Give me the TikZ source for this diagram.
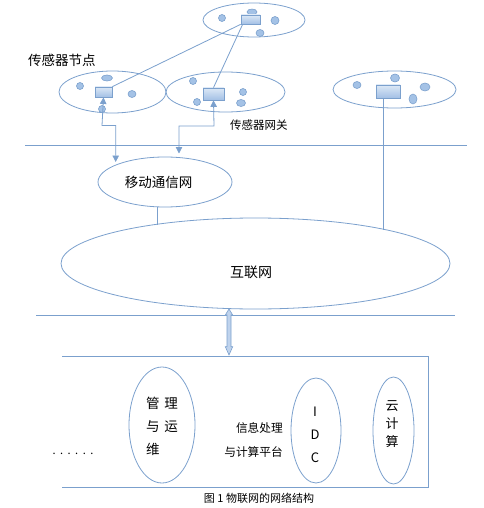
\documentclass[tikz,border=0pt]{standalone}
\usepackage{fontspec}
\setmainfont{Noto Sans CJK SC}
\usetikzlibrary{arrows.meta,positioning,shapes.geometric}
\definecolor{edge}{HTML}{7BA0CD}
\definecolor{dot}{HTML}{A4C2E6}
\definecolor{boxtop}{HTML}{DCE8F6}
\definecolor{boxbot}{HTML}{A3C0E5}
\tikzset{
    %Define standard arrow tip
    >={Triangle[length=6.5pt,width=6.5pt]},
    %Define style for the network ellipses
    net/.style={
           ellipse,
           draw=edge,
           line width=0.8pt,
           inner sep=0pt},
    %Define style for the small sensor dots
    sensor/.style={
           ellipse,
           draw=edge,
           line width=0.6pt,
           fill=dot,
           inner sep=0pt},
    %Define style for the gateway boxes
    gateway/.style={
           rectangle,
           draw=edge,
           line width=0.8pt,
           top color=boxtop,
           bottom color=boxbot,
           inner sep=0pt},
    % Define line style
    wire/.style={
           draw=edge,
           line width=0.8pt},
    lbl/.style={
           inner sep=0pt,
           text=black}
}

\begin{document}
\begin{tikzpicture}[x=1pt,y=-1pt]
\useasboundingbox (0,0) rectangle (483,508);
% sensor fields
\node[net, minimum width=102pt, minimum height=34pt](topf) at (254,20){};
\node[net, minimum width=107pt, minimum height=42pt](leftf) at (112.5,92){};
\node[net, minimum width=119pt, minimum height=40pt](midf) at (225.5,92){};
\node[net, minimum width=123pt, minimum height=37pt](rightf) at (394.5,89.5){};
% sensors
\node[sensor, minimum width=7pt, minimum height=7pt](t1) at (222,18){};
\node[sensor, minimum width=10pt, minimum height=6pt](t2) at (252,12){};
\node[sensor, minimum width=8pt, minimum height=8pt](t3) at (275,20.5){};
\node[sensor, minimum width=8pt, minimum height=7pt](t4) at (260,33){};
\node[sensor, minimum width=7pt, minimum height=7pt](l1) at (80,86){};
\node[sensor, minimum width=11pt, minimum height=6pt](l2) at (107,78){};
\node[sensor, minimum width=8pt, minimum height=7pt](l3) at (132,94){};
\node[sensor, minimum width=7pt, minimum height=7pt](l4) at (102,109){};
\node[sensor, minimum width=7pt, minimum height=7pt](m1) at (193,81){};
\node[sensor, minimum width=7pt, minimum height=7pt](m2) at (243,92){};
\node[sensor, minimum width=7pt, minimum height=7pt](m3) at (197,102){};
\node[sensor, minimum width=9pt, minimum height=7pt](m4) at (241,103){};
\node[sensor, minimum width=8pt, minimum height=7pt](r1) at (357,85){};
\node[sensor, minimum width=9pt, minimum height=8pt](r2) at (395,78){};
\node[sensor, minimum width=10pt, minimum height=8pt](r3) at (425,87){};
\node[sensor, minimum width=8pt, minimum height=10pt](r4) at (413,99){};
% gateways
\node[gateway, minimum width=19pt, minimum height=9pt](topg) at (250.5,19.5){};
\node[gateway, minimum width=17pt, minimum height=10pt](leftg) at (103.5,92){};
\node[gateway, minimum width=21pt, minimum height=12pt](midg) at (213.5,94){};
\node[gateway, minimum width=24pt, minimum height=13pt](rightg) at (388,91.5){};
% labels
\node[lbl, anchor=west, font=\fontsize{13.5}{15}\selectfont](nodelbl) at (28,60){传感器节点};
\node[lbl, anchor=west, font=\fontsize{11.5}{13}\selectfont](gwlbl) at (230,125){传感器网关};
% networks
\node[net, minimum width=134pt, minimum height=50pt](mob) at (165,182){};
\node[lbl, font=\fontsize{13.5}{15}\selectfont] at (158.5,182){移动通信网};
\node[net, minimum width=389pt, minimum height=91pt](inet) at (255.5,263.5){};
\node[lbl, font=\fontsize{14}{16}\selectfont] at (251,272){互联网};
% platform
\node[net, minimum width=66pt, minimum height=116pt](mgmt) at (162,425){};
\node[lbl, align=left, font=\fontsize{13.5}{23}\selectfont] at (162,426){管\hspace{5pt}理\\与\hspace{5pt}运\\维};
\node[net, minimum width=50pt, minimum height=105pt](idc) at (316,430.5){};
\node[lbl, align=center, font=\fontsize{13}{23}\selectfont] at (315,435){I\\D\\C};
\node[net, minimum width=41pt, minimum height=107pt](cloudc) at (393.5,430.5){};
\node[lbl, align=center, font=\fontsize{13}{18}\selectfont] at (392,424){云\\计\\算};
\node[lbl, anchor=east, align=right, font=\fontsize{11.7}{24}\selectfont](infolbl) at (283,440){信息处理\\与计算平台};
\node[lbl, font=\fontsize{11}{13}\selectfont] at (73,454){.\hspace{4.5pt}.\hspace{4.5pt}.\hspace{4.5pt}.\hspace{4.5pt}.\hspace{4.5pt}.};
\node[lbl, font=\fontsize{11}{13}\selectfont](caption) at (259,498){图 1 物联网的网络结构};
% links
\coordinate (lturn) at (102,125.5);
\coordinate (ldrop) at (115.7,125.5);
\coordinate (lend) at (115.7,162);
\coordinate (mturn) at (214,126);
\coordinate (mdrop) at (179,126);
\coordinate (mend) at (179,153.5);
\coordinate (mobend) at (157,225);
\coordinate (rtop) at (383.3,98);
\coordinate (rend) at (383.3,229.5);
\path[wire]
	(leftg.north east) edge (topg.south west)
	([xshift=2pt]topg.south west) edge (midg.north);
\draw[wire, <->] (leftg.south) -- (lturn) -- (ldrop) -- (lend);
\draw[wire, <->] (midg.south) -- (mturn) -- (mdrop) -- (mend);
\draw[wire] (mob.south -| mobend) -- (mobend);
\draw[wire] (rtop) -- (rend);
% separators
\draw[wire] (25,145.7) -- (467,145.7);
\draw[wire] (36,315) -- (455,315);
\draw[wire] (62,356) -- (428,356) -- (428,487) -- (62,487);
% double arrow between internet and platform
\draw[draw=edge, fill=boxbot!70, line width=0.6pt]
	(229,309) -- (232.7,315) -- (231,315) -- (231,346.7) -- (232.7,346.7)
	-- (229,355) -- (225.3,346.7) -- (227,346.7) -- (227,315) -- (225.3,315) -- cycle;
\end{tikzpicture}
\end{document}
